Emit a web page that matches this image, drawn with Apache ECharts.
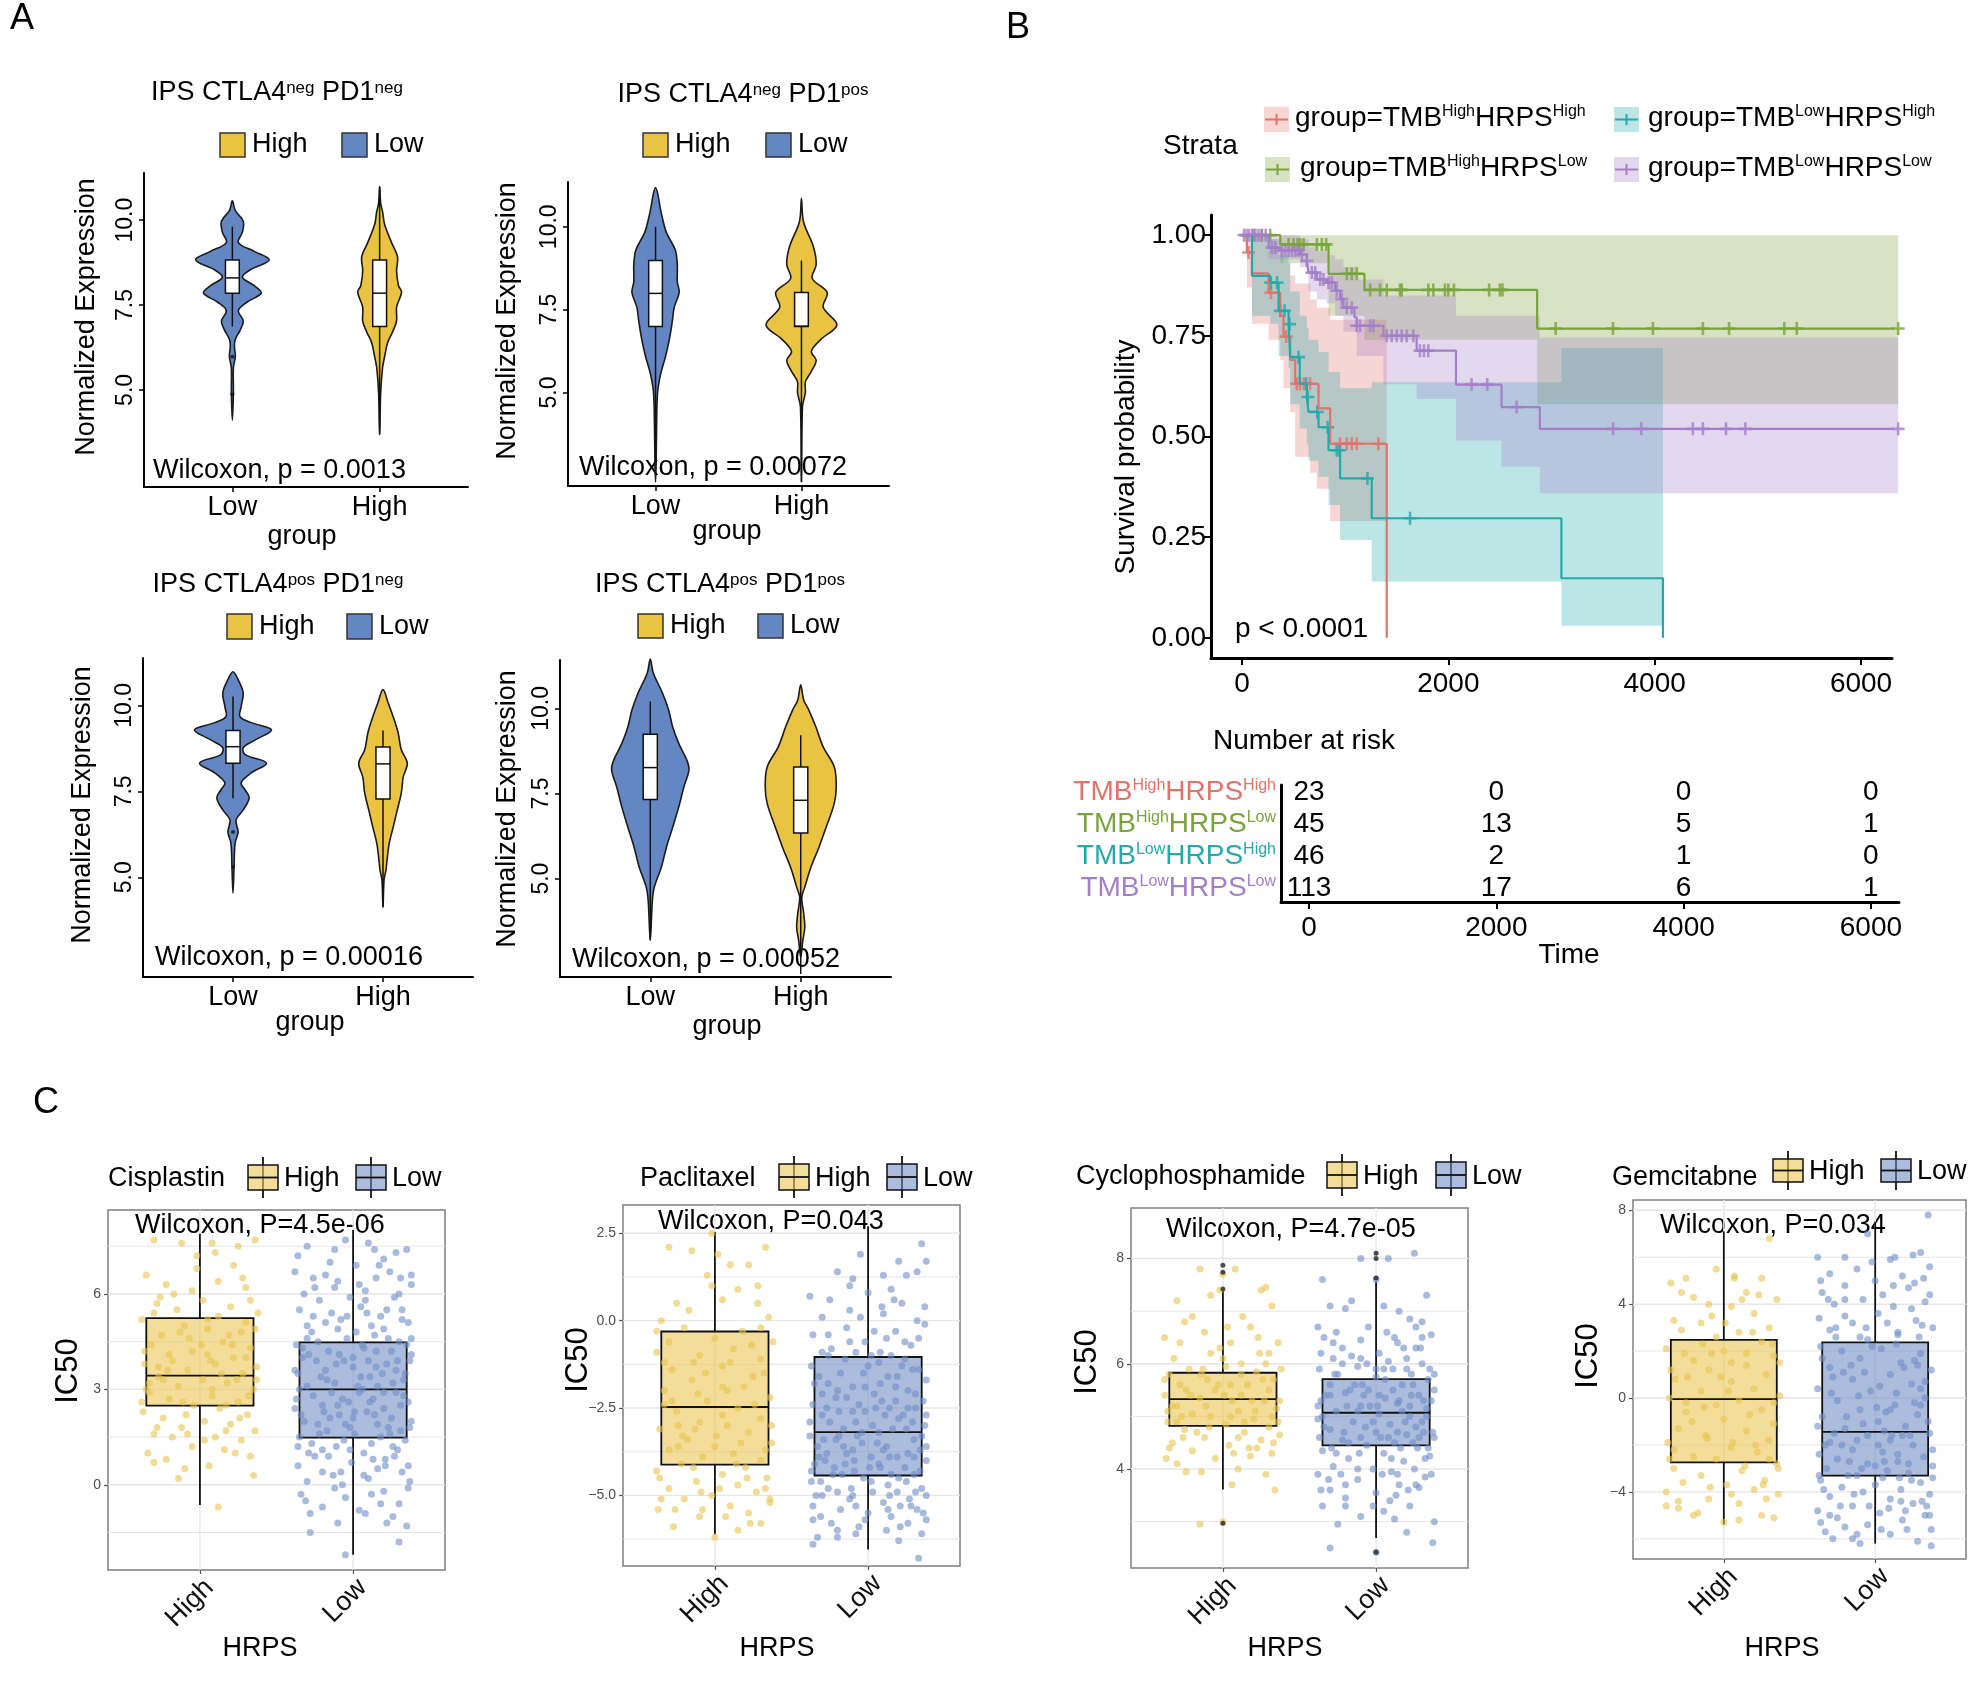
<!DOCTYPE html>
<html>
<head>
<meta charset="UTF-8">
<title>IPS, survival and IC50</title>
<script src="https://cdn.jsdelivr.net/npm/echarts@6/dist/echarts.min.js"></script>
<style>
body { margin: 0; padding: 0; background: #fff; }
#main { width: 1985px; height: 1681px; }
</style>
</head>
<body>
<div id="main"></div>
<script>
var FONT = '"Liberation Sans", Arial, Helvetica, sans-serif';

// ---------------- A : IPS violins ----------------
var catsA = ['Low', 'High'];
var ipsTicks = [5, 7.5, 10];
var ipsSup = [['neg', 'neg'], ['neg', 'pos'], ['pos', 'neg'], ['pos', 'pos']];
var ipsP = ['0.0013', '0.00072', '0.00016', '0.00052'];

// violin outline: [expression, half width in group units]
var vioA1Low = [[10.57,0],[10.28,.020],[9.97,.074],[9.65,.068],[9.34,.041],[9.08,.149],[8.83,.25],[8.54,.122],[8.32,.068],[8.07,.149],[7.85,.196],[7.59,.101],[7.34,.041],[7.03,.074],[6.77,.054],[6.49,.020],[6.30,.014],[5.98,.020],[5.66,.007],[4.91,.007],[4.11,0]];
var vioA1High = [[10.99,0],[10.5,.007],[10.25,.020],[9.87,.034],[9.34,.081],[8.92,.122],[8.51,.115],[8.07,.128],[7.88,.149],[7.44,.115],[7.03,.115],[6.71,.088],[6.39,.054],[5.98,.034],[5.66,.020],[4.91,.007],[3.67,0]];
var vioA2Low = [[11.18,0],[10.38,.041],[9.83,.074],[9.3,.135],[8.86,.149],[8.34,.149],[8.02,.162],[7.57,.128],[7.15,.115],[6.61,.095],[6.08,.068],[5.54,.034],[5.0,.014],[3.93,.007],[2.85,.004],[2.3,0]];
var vioA2High = [[10.86,0],[10.15,.014],[9.41,.081],[8.86,.101],[8.44,.074],[8.02,.176],[7.57,.149],[7.04,.243],[6.61,.135],[6.24,.068],[5.97,.101],[5.64,.068],[5.32,.027],[5.0,.027],[4.57,.007],[2.3,0]];
var vioA3Low = [[10.98,0],[10.75,.034],[10.37,.068],[9.96,.054],[9.67,.047],[9.5,.122],[9.29,.257],[9.0,.149],[8.77,.068],[8.57,.081],[8.32,.223],[8.04,.122],[7.75,.054],[7.54,.081],[7.31,.108],[6.96,.068],[6.67,.020],[6.32,.034],[6.0,.014],[5.3,.007],[4.54,0]];
var vioA3High = [[10.46,0],[10.08,.034],[9.67,.068],[9.2,.101],[8.71,.122],[8.32,.162],[7.92,.135],[7.45,.122],[6.96,.095],[6.46,.068],[5.98,.041],[5.5,.027],[5.21,.020],[4.92,.007],[4.13,0]];
var vioA4Low = [[11.45,0],[11.04,.020],[10.45,.081],[9.95,.122],[9.45,.149],[8.97,.189],[8.48,.243],[8.19,.257],[7.69,.223],[7.1,.189],[6.51,.149],[5.93,.108],[5.34,.074],[4.75,.027],[4.36,.014],[3.19,0]];
var vioA4High = [[10.69,0],[10.24,.020],[9.95,.054],[9.45,.101],[8.87,.149],[8.28,.223],[7.69,.236],[7.21,.223],[6.51,.169],[5.93,.122],[5.34,.068],[4.75,.027],[4.46,.007],[3.97,.020],[3.57,.027],[3.19,.014],[2.69,0]];

// box stats: [lower whisker, Q1, median, Q3, upper whisker]
var boxA1 = [[6.87, 7.85, 8.3, 8.83, 9.81], [3.7, 6.87, 7.85, 8.83, 10.99]];
var boxA2 = [[2.9, 6.99, 7.99, 8.98, 10.0], [2.3, 6.99, 7.0, 8.02, 8.98]];
var boxA3 = [[7.3, 8.32, 8.8, 9.27, 10.26], [4.13, 7.28, 8.3, 8.79, 9.27]];
var boxA4 = [[3.19, 7.32, 8.26, 9.24, 10.2], [2.2, 6.34, 7.3, 8.28, 9.21]];
var outA1 = [[5.98, 4.87], []];
var outA3 = [[6.32, 5.3], []];

// ---------------- B : Kaplan-Meier ----------------
var kmTimeTicks = [0, 2000, 4000, 6000];
var kmProbTicks = [0, 0.25, 0.5, 0.75, 1];
var strataSup = [['High', 'High'], ['High', 'Low'], ['Low', 'High'], ['Low', 'Low']];
// [time, survival after the step]
var kmRed = [[0,1],[48,0.957],[97,0.905],[258,0.857],[371,0.80],[403,0.748],[468,0.69],[516,0.631],[742,0.57],[855,0.482],[1403,0]];
var kmGreen = [[0,1],[371,0.977],[839,0.904],[1187,0.864],[2861,0.768],[6360,0.768]];
var kmTeal = [[0,1],[97,0.899],[274,0.882],[355,0.812],[452,0.779],[468,0.697],[560,0.631],[629,0.598],[645,0.561],[742,0.523],[839,0.466],[951,0.396],[1258,0.297],[3096,0.148],[4080,0]];
var kmPurple = [[0,1],[258,0.969],[371,0.962],[564,0.952],[629,0.936],[645,0.907],[726,0.890],[822,0.882],[903,0.862],[951,0.841],[984,0.820],[1090,0.796],[1113,0.775],[1371,0.750],[1693,0.713],[2074,0.629],[2516,0.573],[2887,0.519],[6360,0.519]];
// confidence band steps: [time, lower, upper]
var ciRed = [[0,1,1],[48,0.87,1],[97,0.78,1],[258,0.74,0.99],[371,0.69,0.96],[403,0.62,0.93],[468,0.56,0.90],[516,0.45,0.88],[661,0.41,0.84],[726,0.37,0.82],[855,0.29,0.79]];
var ciGreen = [[0,1,1],[371,0.93,1],[839,0.80,1],[1187,0.74,1],[2861,0.58,1]];
var ciTeal = [[0,1,1],[97,0.80,1],[274,0.78,0.99],[355,0.70,0.95],[452,0.67,0.93],[468,0.58,0.86],[560,0.52,0.80],[629,0.48,0.77],[645,0.44,0.74],[742,0.40,0.71],[839,0.33,0.66],[951,0.243,0.62],[1258,0.14,0.635],[3096,0.03,0.72]];
var ciPurple = [[0,1,1],[258,0.94,1],[564,0.92,0.99],[645,0.86,0.97],[726,0.84,0.96],[822,0.83,0.95],[903,0.80,0.94],[984,0.76,0.92],[1113,0.70,0.89],[1371,0.63,0.85],[1693,0.594,0.85],[2074,0.49,0.80],[2516,0.425,0.80],[2887,0.359,0.746]];
// censoring times
var censRed = [64,281,429,532,564,600,660,951,1016,1064,1113,1322];
var censGreen = [113,194,274,452,500,539,564,597,726,774,816,1016,1064,1113,1242,1338,1403,1532,1548,1806,1855,1967,2000,2054,2396,2500,2525,3041,3596,3983,4467,4721,5256,5377,6360];
var censTeal = [280,340,372,413,461,548,622,639,730,830,919,945,1216,1629];
var censPurple = [20,45,70,100,130,160,190,230,290,323,387,419,452,484,516,548,581,629,677,710,758,790,839,871,919,968,1016,1064,1113,1145,1242,1274,1403,1451,1500,1548,1596,1661,1725,1764,1806,2225,2377,2661,3596,3870,4370,4467,4691,4879,6360];
// number at risk
var riskTimes = [0, 2000, 4000, 6000];
var riskRed = [23, 0, 0, 0];
var riskGreen = [45, 13, 5, 1];
var riskTeal = [46, 2, 1, 0];
var riskPurple = [113, 17, 6, 1];

// ---------------- C : IC50 boxplots ----------------
var catsC = ['High', 'Low'];
var drugs = ['Cisplastin', 'Paclitaxel', 'Cyclophosphamide', 'Gemcitabne'];
var drugP = ['4.5e-06', '0.043', '4.7e-05', '0.034'];
var icTicks = [[0, 3, 6], [-5, -2.5, 0, 2.5], [4, 6, 8], [-4, 0, 4, 8]];
var icMinor = [[-1.5, 1.5, 4.5, 7.5], [-6.25, -3.75, -1.25, 1.25], [3, 5, 7], [-6, -2, 2, 6]];
var boxC1 = [[-0.64, 2.49, 3.43, 5.24, 7.89], [-2.2, 1.48, 3.0, 4.48, 8.01]];
var boxC2 = [[-6.11, -4.12, -2.47, -0.31, 2.54], [-6.55, -4.43, -3.19, -1.04, 2.7]];
var boxC3 = [[3.61, 4.82, 5.33, 5.83, 7.38], [2.69, 4.45, 5.07, 5.71, 7.56]];
var boxC4 = [[-5.39, -2.74, -0.05, 2.48, 7.1], [-6.2, -3.31, -1.44, 2.37, 7.51]];
var outC3 = [[7.87, 7.74, 7.42, 2.97], [8.1, 8.0, 7.63, 2.42]];
// jittered points: [offset from group centre, IC50]
var ptsC1High = [[-0.30,7.7],[-0.12,7.6],[0.08,7.6],[0.25,7.5],[0.36,7.7],[-0.35,6.6],[-0.22,6.3],[-0.05,6.1],[0.12,6.4],[0.30,6.2],[0.02,5.8],[-0.28,5.7],[-0.15,5.5],[0.20,5.6],[0.38,5.4],[-0.38,5.2],[-0.10,5.0],[0.05,4.9],[0.27,4.8],[-0.25,4.7],[0.15,4.5],[-0.32,4.4],[0.33,4.3],[-0.05,4.2],[0.22,4.0],[-0.18,3.9],[0.10,3.8],[-0.36,3.8],[0.37,3.7],[-0.08,3.6],[0.28,3.5],[-0.27,3.4],[0.02,3.3],[0.18,3.2],[-0.14,3.1],[0.35,3.0],[-0.33,2.9],[0.08,2.8],[-0.20,2.7],[0.25,2.6],[-0.04,2.5],[0.13,2.4],[-0.37,2.3],[0.31,2.2],[-0.24,2.1],[0.03,2.0],[0.20,1.9],[-0.12,1.8],[0.36,1.7],[-0.30,1.6],[0.10,1.5],[-0.18,1.5],[0.27,1.4],[-0.05,1.2],[0.16,1.1],[-0.34,1.0],[0.33,0.9],[-0.22,0.8],[0.06,0.6],[-0.10,0.5],[0.35,0.3],[-0.30,0.7],[0.12,-0.7],[0.22,6.9],[-0.02,6.8],[0.30,5.1],[-0.20,4.1],[0.08,3.0],[-0.27,3.7],[0.17,2.5],[-0.07,4.6],[0.24,3.3],
  [-0.21,3.6],[0.05,4.1],[0.21,4.4],[-0.33,3.2],[0.32,2.8],[-0.09,2.2],[0.12,5.3],[-0.26,5.9],[0.28,6.5],[-0.02,7.2],[0.17,1.7],[-0.14,0.2],[0.36,4.9],[-0.38,2.6],[0.07,3.9],
  [-0.36,4.2],[-0.24,3.3],[-0.11,2.6],[0.01,4.4],[0.14,3.5],[0.26,2.1],[0.37,3.3],[-0.30,5.4],[-0.17,6.0],[0.05,5.2],[0.19,4.7],[0.33,5.8],[-0.08,1.6],[0.23,1.0],[-0.28,1.8],[0.10,7.3],[-0.35,3.0],[0.30,4.0],[-0.13,4.8],[0.03,1.4]];
var ptsC1Low = [[-0.30,7.5],[-0.05,7.7],[0.10,7.6],[0.28,7.3],[0.35,7.4],[-0.15,7.0],[0.20,7.1],[-0.38,6.7],[-0.25,6.2],[-0.10,6.4],[0.02,6.9],[0.15,6.5],[0.30,6.0],[0.38,6.3],[-0.32,6.0],[0.08,6.1],[-0.18,6.6],[-0.35,5.5],[-0.22,5.8],[-0.08,5.2],[0.05,5.6],[0.18,5.3],[0.27,5.9],[0.36,5.1],[-0.30,5.0],[0.12,5.0],[-0.14,5.4],[0.32,5.5],[-0.02,5.9],[-0.37,4.4],[-0.27,4.8],[-0.16,4.2],[-0.04,4.6],[0.07,4.3],[0.20,4.9],[0.30,4.5],[0.38,4.1],[-0.33,4.0],[0.14,4.7],[-0.10,4.9],[0.25,4.2],[0.00,4.0],[-0.36,3.5],[-0.24,3.9],[-0.12,3.2],[0.00,3.7],[0.11,3.4],[0.22,3.8],[0.33,3.3],[-0.30,3.1],[0.06,3.0],[0.28,3.6],[-0.18,3.6],[0.16,3.1],[-0.06,3.9],[0.37,3.9],[-0.38,2.4],[-0.26,2.8],[-0.15,2.1],[-0.03,2.6],[0.09,2.3],[0.20,2.9],[0.31,2.5],[0.38,2.0],[-0.32,2.0],[0.13,2.7],[-0.09,2.2],[0.25,2.1],[-0.20,2.5],[0.04,2.9],[-0.35,1.5],[-0.23,1.9],[-0.11,1.2],[0.01,1.6],[0.12,1.3],[0.23,1.8],[0.34,1.4],[-0.29,1.0],[0.07,1.0],[0.29,1.1],[-0.17,1.7],[0.18,1.5],[-0.05,1.9],[0.37,1.8],[-0.36,0.6],[-0.25,0.9],[-0.13,0.3],[-0.01,0.7],[0.10,0.2],[0.21,0.8],[0.32,0.4],[-0.30,0.1],[0.16,0.5],[-0.07,0.0],[0.27,0.9],[0.37,0.1],[-0.34,-0.3],[-0.20,-0.7],[-0.05,-0.4],[0.08,-0.9],[0.20,-0.2],[0.30,-0.6],[0.36,-0.1],[-0.12,-0.1],[-0.28,-1.5],[0.22,-1.2],[0.35,-1.3],[-0.05,-2.2],[0.04,-0.8],
  [-0.33,4.3],[-0.21,3.4],[-0.09,4.1],[0.03,3.1],[0.15,4.2],[0.26,3.2],[0.35,4.4],[-0.37,2.7],[-0.19,2.3],[-0.02,1.8],[0.11,2.6],[0.24,1.6],[0.33,2.8],[-0.27,1.3],[-0.11,3.8],[0.06,4.4],[0.19,3.5],[0.31,1.7],[-0.35,3.0],[-0.14,2.9],[0.01,2.3],[0.16,1.9],[0.29,3.9],[-0.23,4.5],[-0.06,1.4],[0.21,0.6],[-0.31,-0.5],[0.12,-0.3],[0.38,6.6],[-0.26,5.3],[0.09,5.4],[0.24,6.7],[-0.12,6.2],[0.32,5.2],[-0.36,7.2],[0.14,7.4],[-0.08,0.4],[0.26,-1.0],[-0.20,1.1],[0.36,2.6],
  [-0.38,3.6],[-0.29,4.1],[-0.17,3.3],[-0.07,2.7],[0.05,3.4],[0.14,2.2],[0.23,4.6],[0.34,3.5],[-0.34,2.2],[-0.22,1.6],[-0.10,2.5],[0.02,4.8],[0.10,3.9],[0.20,2.4],[0.28,2.9],[0.38,4.6],[-0.30,4.6],[-0.18,5.1],[-0.04,5.3],[0.08,5.8],[0.22,5.5],[0.31,6.5],[-0.26,6.5],[-0.12,7.4],[0.04,6.3],[0.17,6.9],[-0.36,1.2],[-0.20,0.4],[-0.02,1.1],[0.13,0.8],[0.26,1.2],[0.36,0.6],[-0.28,-0.9],[-0.10,-1.2],[0.07,0.3],[0.18,-0.6],[0.30,-1.8],[-0.16,0.9],[0.00,2.1],[0.15,3.7]];
var ptsC2High = [[-0.30,2.1],[-0.15,2.0],[0.02,1.9],[0.22,1.6],[0.33,2.1],[0.28,1.0],[-0.25,0.5],[0.05,0.6],[-0.05,1.3],[0.15,0.9],[-0.02,2.5],[-0.35,0.0],[-0.20,-0.2],[0.00,-0.5],[0.18,-0.3],[0.35,0.1],[-0.38,-0.9],[-0.10,-1.0],[0.10,-1.2],[0.30,-1.1],[-0.28,-1.4],[0.25,-1.6],[-0.15,-1.7],[0.05,-1.9],[-0.33,-2.0],[0.36,-2.2],[-0.05,-2.3],[0.15,-2.5],[-0.25,-2.6],[0.30,-2.8],[-0.10,-2.9],[0.08,-3.0],[-0.36,-3.1],[0.22,-3.2],[-0.18,-3.4],[0.37,-3.5],[0.00,-3.6],[-0.30,-3.7],[0.12,-3.8],[-0.08,-3.9],[0.30,-4.0],[-0.22,-4.1],[0.20,-4.2],[-0.38,-4.3],[0.05,-4.4],[0.34,-4.5],[-0.12,-4.6],[0.15,-4.7],[-0.30,-4.8],[0.27,-4.9],[-0.02,-5.0],[-0.20,-5.1],[0.36,-5.1],[0.10,-5.3],[-0.37,-5.4],[0.22,-5.5],[-0.10,-5.6],[0.30,-5.8],[-0.27,-5.9],[0.00,-6.2],[0.15,-6.0],[-0.33,-1.2],[0.33,-3.7],[-0.06,-1.5],[0.24,-0.7],[-0.24,-3.0],[0.08,-2.0],[-0.14,-4.2],[0.38,-0.6],
  [-0.21,-3.3],[0.05,-2.7],[0.21,-4.5],[-0.33,-2.4],[0.32,-1.5],[-0.09,-4.9],[0.12,-0.8],[-0.26,-5.4],[0.28,0.5],[-0.02,1.0],[0.17,-3.5],[-0.14,-1.2],[0.36,-5.2],[-0.38,-0.3],[0.07,-5.6],
  [-0.36,-4.5],[-0.24,-3.6],[-0.11,-2.1],[0.01,-3.3],[0.14,-4.1],[0.26,-2.4],[0.37,-3.0],[-0.30,-0.6],[-0.17,0.3],[0.05,-1.3],[0.19,-1.9],[0.33,-4.8],[-0.08,-5.4],[0.23,-5.8],[-0.28,-2.3],[0.10,1.6],[-0.35,-5.1],[0.30,-0.2],[-0.13,-3.1],[0.03,-4.8]];
var ptsC2Low = [[-0.05,1.9],[0.20,1.7],[0.35,2.2],[0.25,1.3],[-0.20,1.4],[-0.10,1.2],[0.10,1.3],[0.38,1.7],[-0.38,0.7],[-0.25,0.6],[-0.12,0.3],[0.00,0.8],[0.10,0.2],[0.22,0.5],[0.32,0.0],[-0.30,0.1],[0.15,0.9],[-0.05,0.1],[0.37,0.4],[-0.36,-0.4],[-0.24,-0.8],[-0.14,-0.2],[-0.02,-0.6],[0.08,-0.9],[0.18,-0.3],[0.28,-0.7],[0.37,-0.1],[-0.30,-0.9],[0.12,-0.5],[-0.08,-0.9],[0.33,-0.5],[-0.37,-1.3],[-0.26,-1.8],[-0.15,-1.1],[-0.03,-1.5],[0.07,-1.2],[0.18,-1.9],[0.29,-1.4],[0.38,-1.7],[-0.32,-1.6],[0.13,-1.6],[-0.10,-1.9],[0.24,-1.1],[0.02,-1.0],[-0.36,-2.4],[-0.25,-2.9],[-0.14,-2.2],[-0.02,-2.6],[0.09,-2.3],[0.20,-2.8],[0.31,-2.1],[0.38,-2.7],[-0.30,-2.1],[0.14,-2.5],[-0.08,-2.9],[0.26,-2.5],[-0.19,-2.6],[0.04,-2.1],[-0.38,-3.3],[-0.27,-3.8],[-0.16,-3.1],[-0.04,-3.5],[0.07,-3.2],[0.19,-3.9],[0.30,-3.4],[0.37,-3.0],[-0.32,-3.9],[0.12,-3.6],[-0.10,-3.7],[0.25,-3.1],[-0.21,-3.4],[0.02,-3.9],[0.34,-3.7],[-0.37,-4.3],[-0.26,-4.8],[-0.15,-4.1],[-0.03,-4.5],[0.08,-4.2],[0.19,-4.9],[0.30,-4.4],[0.38,-4.0],[-0.31,-4.6],[0.13,-4.7],[-0.09,-4.3],[0.25,-4.6],[-0.20,-4.9],[0.03,-4.9],[0.35,-4.8],[-0.35,-4.1],[-0.36,-5.3],[-0.24,-5.8],[-0.12,-5.1],[0.00,-5.5],[0.10,-5.2],[0.21,-5.9],[0.32,-5.4],[0.38,-5.0],[-0.30,-5.0],[0.15,-5.6],[-0.06,-5.9],[0.27,-5.1],[-0.18,-5.4],[-0.33,-6.2],[-0.08,-6.1],[0.20,-6.3],[0.35,-6.1],[0.33,-6.8],[-0.20,-6.0],
  [-0.33,-3.6],[-0.21,-2.2],[-0.09,-4.0],[0.03,-3.0],[0.15,-4.4],[0.26,-2.0],[0.35,-3.3],[-0.37,-4.6],[-0.19,-3.3],[-0.02,-1.9],[0.11,-2.7],[0.24,-4.2],[0.33,-1.4],[-0.27,-2.5],[-0.11,-4.8],[0.06,-3.5],[0.19,-1.6],[0.31,-4.9],[-0.35,-1.8],[-0.14,-3.8],[0.01,-4.2],[0.16,-3.1],[0.29,-2.9],[-0.23,-4.4],[-0.06,-2.4],[0.21,-5.3],[-0.31,-5.6],[0.12,-6.0],[0.38,-5.7],[-0.26,-0.4],[0.09,0.4],[0.24,-0.6],[-0.12,1.0],[0.32,1.4],[-0.36,-6.4],[0.14,-5.0],[-0.08,-5.3],[0.26,-3.8],[-0.20,-2.0],[0.36,-2.3],
  [-0.38,-2.9],[-0.29,-3.4],[-0.17,-4.4],[-0.07,-3.3],[0.05,-2.5],[0.14,-3.9],[0.23,-2.7],[0.34,-4.3],[-0.34,-5.0],[-0.22,-4.2],[-0.10,-5.0],[0.02,-4.6],[0.10,-3.7],[0.20,-4.5],[0.28,-5.3],[0.38,-3.6],[-0.30,-2.7],[-0.18,-1.5],[-0.04,-3.2],[0.08,-1.8],[0.22,-1.3],[0.31,-2.5],[-0.26,-1.0],[-0.12,-0.6],[0.04,-0.3],[0.17,0.6],[-0.36,-5.7],[-0.20,-6.2],[-0.02,-5.7],[0.13,-5.4],[0.26,-5.8],[0.36,-5.5],[-0.28,-4.0],[-0.10,-2.6],[0.07,-4.1],[0.18,-2.3],[0.30,-3.9],[-0.16,-3.6],[0.00,-1.3],[0.15,-1.0]];
var ptsC3High = [[-0.15,7.8],[0.00,7.7],[0.08,7.8],[-0.02,7.4],[0.25,7.4],[0.28,7.45],[-0.30,7.2],[-0.08,7.3],[0.32,7.1],[0.13,6.9],[-0.25,6.8],[-0.38,6.5],[-0.20,6.9],[0.18,6.7],[0.36,6.4],[0.05,6.4],[-0.12,6.6],[0.24,6.2],[-0.32,6.1],[0.00,6.1],[-0.35,5.8],[-0.22,5.9],[-0.10,5.7],[0.02,5.95],[0.12,5.8],[0.22,5.85],[0.33,5.7],[0.38,5.9],[-0.28,5.6],[-0.05,5.5],[0.16,5.6],[0.30,5.5],[-0.38,5.4],[-0.15,5.35],[0.06,5.3],[0.27,5.3],[-0.30,5.2],[0.10,5.1],[-0.20,5.05],[0.35,5.15],[-0.08,5.0],[0.20,4.95],[-0.36,4.9],[0.02,4.85],[0.30,4.8],[-0.25,4.75],[0.14,4.7],[-0.12,4.6],[0.37,4.65],[-0.33,4.5],[0.25,4.55],[0.04,4.45],[-0.20,4.35],[0.32,4.3],[-0.05,4.2],[0.18,4.25],[-0.30,4.1],[0.10,4.0],[-0.14,3.95],[0.28,3.9],[-0.37,4.2],[0.06,3.7],[0.34,3.6],[-0.24,3.95],[0.00,3.0],[-0.15,2.95],[0.22,4.4],[-0.03,5.6],[0.12,6.0],[-0.27,5.0],
  [-0.21,5.4],[0.05,5.6],[0.21,5.1],[-0.33,5.2],[0.32,5.0],[-0.09,4.8],[0.12,5.4],[-0.26,4.6],[0.28,6.0],[-0.02,6.3],[0.17,4.4],[-0.14,5.8],[0.36,4.9],[-0.38,5.7],[0.07,4.3],
  [-0.36,5.1],[-0.24,5.5],[-0.11,5.2],[0.01,5.4],[0.14,4.9],[0.26,5.7],[0.37,5.3],[-0.30,4.9],[-0.17,4.7],[0.05,5.0],[0.19,5.3],[0.33,4.5],[-0.08,6.2],[0.23,6.5],[-0.28,6.4],[0.10,4.6],[-0.35,4.4],[0.30,6.2],[-0.13,5.9],[0.03,6.7]];
var ptsC3Low = [[-0.10,8.0],[0.25,8.1],[0.08,8.0],[-0.35,7.6],[0.00,7.6],[-0.30,7.1],[0.05,7.1],[0.33,7.3],[-0.20,7.05],[0.22,6.85],[-0.38,6.7],[0.30,6.8],[-0.05,6.7],[-0.34,6.5],[-0.22,6.3],[-0.10,6.45],[0.02,6.2],[0.14,6.4],[0.26,6.3],[0.36,6.55],[-0.28,6.1],[0.08,6.05],[0.30,6.0],[-0.16,6.15],[0.20,6.1],[-0.37,5.9],[-0.25,5.8],[-0.12,5.95],[0.00,5.75],[0.11,5.9],[0.23,5.8],[0.34,5.7],[-0.30,5.6],[-0.05,5.5],[0.17,5.6],[0.38,5.5],[-0.20,5.45],[0.06,5.35],[0.28,5.4],[-0.36,5.3],[-0.10,5.2],[0.14,5.25],[0.33,5.15],[-0.26,5.1],[0.02,5.05],[0.22,5.0],[-0.38,4.95],[-0.15,4.9],[0.09,4.85],[0.30,4.9],[-0.30,4.75],[0.00,4.7],[0.20,4.65],[0.37,4.7],[-0.22,4.55],[0.12,4.5],[-0.06,4.45],[0.27,4.4],[-0.35,4.35],[0.05,4.3],[0.35,4.25],[-0.18,4.2],[0.18,4.15],[-0.28,4.05],[-0.02,4.0],[0.25,4.0],[-0.38,3.9],[0.10,3.95],[0.32,3.85],[-0.12,3.8],[0.15,3.7],[-0.30,3.6],[0.00,3.55],[0.28,3.65],[-0.20,3.45],[0.22,3.3],[-0.35,3.3],[0.05,3.2],[-0.10,3.1],[0.38,3.0],[-0.25,2.95],[0.20,2.8],[0.37,2.6],[-0.30,2.5],[0.00,2.42],[0.12,3.05],
  [-0.33,5.4],[-0.21,4.7],[-0.09,5.6],[0.03,4.6],[0.15,5.3],[0.26,4.8],[0.35,5.9],[-0.37,4.6],[-0.19,5.2],[-0.02,4.9],[0.11,5.5],[0.24,4.5],[0.33,5.0],[-0.27,5.8],[-0.11,4.3],[0.06,5.7],[0.19,4.9],[0.31,5.3],[-0.35,5.0],[-0.14,5.6],[0.01,5.2],[0.16,4.4],[0.29,6.3],[-0.23,3.9],[-0.06,6.0],[0.21,3.6],[-0.31,3.8],[0.12,6.5],[0.38,4.6],[-0.26,6.6],[0.09,3.4],[0.24,5.6],[-0.12,4.0],[0.32,4.2],[-0.36,6.2],[0.14,3.9],[-0.08,5.4],[0.26,6.7],[-0.20,3.3],[0.36,5.3],
  [-0.38,5.2],[-0.29,4.4],[-0.17,5.5],[-0.07,4.8],[0.05,5.9],[0.14,4.7],[0.23,5.4],[0.34,4.4],[-0.34,4.8],[-0.22,6.0],[-0.10,4.6],[0.02,5.4],[0.10,4.2],[0.20,5.9],[0.28,4.6],[0.38,5.8],[-0.30,5.4],[-0.18,4.5],[-0.04,5.2],[0.08,4.6],[0.22,5.2],[0.31,4.7],[-0.26,4.3],[-0.12,5.1],[0.04,3.9],[0.17,5.1],[-0.36,3.6],[-0.20,3.7],[-0.02,3.3],[0.13,3.5],[0.26,3.7],[0.36,3.9],[-0.28,6.4],[-0.10,6.1],[0.07,6.6],[0.18,6.3],[0.30,6.5],[-0.16,7.2],[0.00,5.9],[0.15,7.0]];
var ptsC4High = [[0.30,6.8],[-0.35,4.9],[-0.25,5.1],[-0.05,5.5],[0.07,5.2],[0.25,5.1],[0.35,4.2],[-0.20,4.3],[0.15,4.5],[-0.10,4.0],[0.05,3.9],[-0.33,3.3],[0.20,3.6],[-0.15,3.2],[0.30,3.0],[-0.28,2.9],[0.10,2.8],[-0.05,2.6],[0.25,2.4],[-0.38,2.1],[0.00,2.0],[0.33,1.8],[-0.20,1.6],[0.15,1.4],[-0.10,1.2],[0.28,1.0],[-0.32,0.8],[0.05,0.7],[0.20,0.4],[-0.15,0.3],[0.37,0.1],[-0.36,0.0],[0.10,-0.1],[-0.05,-0.3],[0.25,-0.5],[-0.25,-0.6],[0.00,-0.9],[0.33,-1.1],[-0.30,-1.3],[0.15,-1.4],[-0.12,-1.6],[0.30,-1.8],[-0.37,-1.9],[0.05,-2.1],[0.22,-2.3],[-0.20,-2.5],[-0.05,-2.6],[0.35,-2.8],[-0.33,-3.0],[0.12,-3.1],[-0.15,-3.3],[0.27,-3.5],[-0.27,-3.6],[0.02,-3.7],[0.20,-3.9],[-0.38,-4.0],[0.36,-4.1],[-0.10,-4.3],[0.10,-4.5],[-0.30,-4.7],[0.25,-5.0],[0.00,-5.3],[0.33,-5.1],[-0.20,-5.0],[0.15,1.9],[-0.25,-0.2],[0.06,-1.9],[-0.08,3.5],
  [-0.21,-1.0],[0.05,1.5],[0.21,-2.0],[-0.33,-2.2],[0.32,2.3],[-0.09,-3.8],[0.12,4.2],[-0.26,1.9],[0.28,-4.3],[-0.02,0.9],[0.17,-0.7],[-0.14,2.3],[0.36,-3.0],[-0.38,-4.6],[0.07,5.1],
  [-0.36,-2.6],[-0.24,0.9],[-0.11,-1.7],[0.01,3.2],[0.14,-2.9],[0.26,-3.7],[0.37,1.5],[-0.30,-4.4],[-0.17,-4.9],[0.05,-4.1],[0.19,2.8],[0.33,-0.2],[-0.08,1.9],[0.23,4.4],[-0.28,4.5],[0.10,-5.2],[-0.35,1.2],[0.30,-2.6],[-0.13,-0.4],[0.03,0.3]];
var ptsC4Low = [[0.35,7.8],[-0.05,7.0],[-0.38,6.0],[-0.20,6.0],[0.25,6.1],[0.30,6.2],[0.10,5.9],[-0.30,5.3],[-0.12,5.5],[0.00,5.0],[0.18,5.2],[0.36,5.6],[-0.35,4.5],[-0.20,4.8],[0.05,4.4],[0.22,4.7],[0.33,4.1],[-0.27,4.0],[-0.08,4.2],[0.12,3.9],[-0.37,3.4],[-0.15,3.2],[0.02,3.6],[0.27,3.3],[0.38,3.0],[-0.30,2.9],[0.15,2.8],[-0.05,2.5],[-0.36,2.2],[-0.22,2.0],[-0.10,1.7],[0.04,2.1],[0.17,1.5],[0.30,1.9],[0.37,1.2],[-0.30,1.3],[0.10,1.0],[-0.15,0.8],[0.24,0.6],[-0.38,0.4],[-0.03,0.3],[0.33,0.0],[-0.25,-0.1],[0.13,-0.3],[-0.10,-0.5],[0.28,-0.7],[-0.35,-0.8],[0.02,-1.0],[0.20,-1.2],[-0.20,-1.3],[0.36,-1.5],[-0.05,-1.6],[0.10,-1.8],[-0.30,-1.9],[0.25,-2.0],[-0.15,-2.2],[0.05,-2.3],[-0.37,-2.4],[0.32,-2.5],[-0.25,-2.6],[0.15,-2.7],[-0.05,-2.8],[0.38,-2.9],[-0.32,-3.0],[0.08,-3.1],[0.22,-3.2],[-0.12,-3.3],[-0.36,-3.5],[0.30,-3.6],[0.00,-3.7],[-0.22,-3.8],[0.17,-3.9],[-0.08,-4.0],[0.36,-4.1],[-0.30,-4.2],[0.10,-4.3],[0.25,-4.5],[-0.15,-4.6],[-0.38,-4.8],[0.03,-4.9],[0.33,-5.0],[-0.25,-5.1],[0.18,-5.2],[-0.05,-5.4],[0.37,-5.6],[-0.33,-5.7],[0.10,-5.8],[-0.15,-6.0],[0.28,-6.1],[0.37,-6.3],[-0.20,-5.5],[0.06,-1.4],[-0.28,0.9],[0.30,-0.3],
  [-0.33,-2.0],[-0.21,1.1],[-0.09,-3.0],[0.03,0.5],[0.15,-2.4],[0.26,1.6],[0.35,-1.0],[-0.37,-3.3],[-0.19,-0.8],[-0.02,2.2],[0.11,-1.6],[0.24,-3.5],[0.33,0.7],[-0.27,-1.5],[-0.11,0.1],[0.06,-2.7],[0.19,1.3],[0.31,-4.4],[-0.35,1.7],[-0.14,-4.1],[0.01,-0.4],[0.16,-3.4],[0.29,2.6],[-0.23,-4.6],[-0.06,3.0],[0.21,-5.6],[-0.31,4.2],[0.12,4.8],[0.38,-2.2],[-0.26,2.6],[0.09,-4.7],[0.24,3.8],[-0.12,-5.8],[0.32,5.1],[-0.36,-5.3],[0.14,0.2],[-0.08,-1.1],[0.26,-0.2],[-0.20,3.5],[0.36,4.4],
  [-0.38,-1.2],[-0.29,0.2],[-0.17,-2.7],[-0.07,1.1],[0.05,-3.4],[0.14,2.3],[0.23,-1.6],[0.34,-4.6],[-0.34,-3.9],[-0.22,-2.0],[-0.10,2.6],[0.02,-2.0],[0.10,-0.5],[0.20,-4.8],[0.28,1.4],[0.38,-3.4],[-0.30,-5.0],[-0.18,-3.3],[-0.04,-4.6],[0.08,3.2],[0.22,-2.8],[0.31,3.1],[-0.26,3.0],[-0.12,-1.8],[0.04,-5.6],[0.17,-4.4],[-0.36,5.0],[-0.20,4.2],[-0.02,5.8],[0.13,6.0],[0.26,4.9],[0.36,-5.0],[-0.28,-6.0],[-0.10,-6.2],[0.07,-0.6],[0.18,-1.6],[0.30,0.4],[-0.16,1.4],[0.00,-2.9],[0.15,2.7]];

// ---------------- layout / style ----------------
var YEL = '#EBC343', BLU = '#6487C3';
var kmColors = ['#E0736A', '#7AA33B', '#22AAAB', '#A47FC9'];
var kmBand = ['rgba(224,115,106,0.3)', 'rgba(122,163,59,0.3)', 'rgba(34,170,171,0.3)', 'rgba(164,127,201,0.3)'];
var cFill = ['rgba(236,200,90,0.62)', 'rgba(110,140,196,0.58)'];
var cPt = ['rgba(232,196,80,0.75)', 'rgba(112,142,198,0.75)'];

var gridA = [
  { left: 144, top: 173, width: 324, height: 314, ymin: 2.14, ymax: 11.39, title: [277, 93], key: [220, 133, 342, 24], yt: [87, 317], p: [153, 471], grp: [302, 537] },
  { left: 568, top: 182, width: 321, height: 304, ymin: 2.18, ymax: 11.35, title: [743, 95], key: [643, 133, 766, 24], yt: [508, 321], p: [579, 468], grp: [727, 532] },
  { left: 143, top: 658, width: 330, height: 319, ymin: 2.10, ymax: 11.38, title: [278, 585], key: [227, 614, 347, 25], yt: [83, 805], p: [155, 958], grp: [310, 1023] },
  { left: 560, top: 660, width: 331, height: 317, ymin: 2.11, ymax: 11.42, title: [720, 585], key: [638, 614, 758, 24], yt: [508, 809], p: [572, 960], grp: [727, 1027] }
];
var gridC = [
  { left: 108, top: 1210, width: 337, height: 360, ymin: -2.68, ymax: 8.64, lt: [108, 1179], key: [248, 1165, 356, 25, 1179], p: [135, 1226], yt: [68, 1371], xt: 260 },
  { left: 623, top: 1205, width: 337, height: 361, ymin: -7.02, ymax: 3.31, lt: [640, 1179], key: [779, 1164, 887, 26, 1179], p: [658, 1222], yt: [578, 1360], xt: 777 },
  { left: 1131, top: 1208, width: 337, height: 360, ymin: 2.12, ymax: 8.96, lt: [1076, 1177], key: [1327, 1162, 1436, 26, 1177], p: [1166, 1230], yt: [1087, 1362], xt: 1285 },
  { left: 1633, top: 1200, width: 333, height: 359, ymin: -6.86, ymax: 8.44, lt: [1612, 1178], key: [1773, 1159, 1881, 23, 1172], p: [1660, 1226], yt: [1588, 1356], xt: 1782 }
];

var vios = [[vioA1Low, vioA1High], [vioA2Low, vioA2High], [vioA3Low, vioA3High], [vioA4Low, vioA4High]];
var boxesA = [boxA1, boxA2, boxA3, boxA4];
var outsA = [outA1, [[], []], outA3, [[], []]];
var boxesC = [boxC1, boxC2, boxC3, boxC4];
var outsC = [[[], []], [[], []], outC3, [[], []]];
var ptsC = [[ptsC1High, ptsC1Low], [ptsC2High, ptsC2Low], [ptsC3High, ptsC3Low], [ptsC4High, ptsC4Low]];
var kmCurves = [kmRed, kmGreen, kmTeal, kmPurple];
var kmCI = [ciRed, ciGreen, ciTeal, ciPurple];
var kmCens = [censRed, censGreen, censTeal, censPurple];
var riskRows = [riskRed, riskGreen, riskTeal, riskPurple];

var grids = [], xAxes = [], yAxes = [], series = [], gfx = [];

function minus(s) { return String(s).replace('-', '\u2212'); }
function plain(v) { return String(v); }
function addGrid(r, extra) {
  grids.push(Object.assign({ left: r.left, top: r.top, width: r.width, height: r.height, containLabel: false, outerBoundsMode: 'none' }, extra || {}));
  return grids.length - 1;
}
function text(x, y, str, size, opt) {
  opt = opt || {};
  return {
    type: 'text', x: x, y: y, rotation: opt.rot || 0, silent: true,
    style: { text: str, fontSize: size, fontFamily: FONT, fill: opt.color || '#000',
      align: opt.align || 'left', verticalAlign: 'middle', rich: opt.rich }
  };
}
function supRich(size, ssize, color) {
  return { a: { fontSize: size, fontFamily: FONT, fill: color || '#000' },
           s: { fontSize: ssize, fontFamily: FONT, fill: color || '#000', verticalAlign: 'top' } };
}
function line(x1, y1, x2, y2, color, w) {
  return { type: 'line', silent: true, shape: { x1: x1, y1: y1, x2: x2, y2: y2 }, style: { stroke: color, lineWidth: w } };
}
function rect(x, y, w, h, fill, stroke) {
  return { type: 'rect', silent: true, shape: { x: x, y: y, width: w, height: h }, style: { fill: fill, stroke: stroke || null, lineWidth: 1.5 } };
}

function violinItem(shapes, fills) {
  return function (params, api) {
    var k = params.dataIndex, c = k + 1, o = shapes[k], pts = [], j;
    for (j = 0; j < o.length; j++) pts.push(api.coord([c + o[j][1], o[j][0]]));
    for (j = o.length - 1; j >= 0; j--) if (o[j][1] > 0) pts.push(api.coord([c - o[j][1], o[j][0]]));
    return { type: 'polygon', shape: { points: pts, smooth: 0.35 }, style: { fill: fills[k], stroke: '#1b1b1b', lineWidth: 1.6 } };
  };
}
function boxItem(stats, fills, hw, lw) {
  return function (params, api) {
    var k = params.dataIndex, c = k + 1, b = stats[k];
    var w0 = api.coord([c, b[0]]), w1 = api.coord([c, b[1]]), w3 = api.coord([c, b[3]]), w4 = api.coord([c, b[4]]);
    var tl = api.coord([c - hw, b[3]]), br = api.coord([c + hw, b[1]]);
    var ml = api.coord([c - hw, b[2]]), mr = api.coord([c + hw, b[2]]);
    function st() { return { stroke: '#111', lineWidth: lw }; }
    return { type: 'group', children: [
      { type: 'line', shape: { x1: w0[0], y1: w0[1], x2: w1[0], y2: w1[1] }, style: st() },
      { type: 'line', shape: { x1: w3[0], y1: w3[1], x2: w4[0], y2: w4[1] }, style: st() },
      { type: 'rect', shape: { x: tl[0], y: tl[1], width: br[0] - tl[0], height: br[1] - tl[1] }, style: { fill: fills[k], stroke: '#111', lineWidth: lw } },
      { type: 'line', shape: { x1: ml[0], y1: ml[1], x2: mr[0], y2: mr[1] }, style: st() }
    ] };
  };
}
function outlierData(outs) {
  var d = [];
  outs.forEach(function (o, k) { o.forEach(function (v) { d.push([k + 1, v]); }); });
  return d;
}

// ===== panel A =====
gridA.forEach(function (g, i) {
  var gi = addGrid(g);
  xAxes.push({ gridIndex: gi, type: 'value', min: 0.4, max: 2.6,
    axisLine: { show: true, onZero: false, lineStyle: { color: '#000', width: 2 } },
    axisTick: { show: true, customValues: [1, 2], length: 5, lineStyle: { color: '#000', width: 1.5 } },
    axisLabel: { customValues: [1, 2], formatter: function (v) { return catsA[Math.round(v) - 1]; }, fontSize: 27, color: '#000', margin: 7 },
    splitLine: { show: false } });
  yAxes.push({ gridIndex: gi, type: 'value', min: g.ymin, max: g.ymax,
    axisLine: { show: true, onZero: false, lineStyle: { color: '#000', width: 2 } },
    axisTick: { show: true, customValues: ipsTicks, length: 5, lineStyle: { color: '#000', width: 1.5 } },
    axisLabel: { customValues: ipsTicks, rotate: 90, formatter: function (v) { return v.toFixed(1); }, fontSize: 23, color: '#000', margin: 7 },
    splitLine: { show: false } });
  series.push({ type: 'custom', xAxisIndex: gi, yAxisIndex: gi, silent: true,
    data: [[1, boxesA[i][0][2]], [2, boxesA[i][1][2]]], renderItem: violinItem(vios[i], [BLU, YEL]) });
  series.push({ type: 'custom', xAxisIndex: gi, yAxisIndex: gi, silent: true,
    data: [[1, boxesA[i][0][2]], [2, boxesA[i][1][2]]], renderItem: boxItem(boxesA[i], ['#fff', '#fff'], 0.047, 1.5) });
  series.push({ type: 'scatter', xAxisIndex: gi, yAxisIndex: gi, silent: true, symbolSize: 4,
    itemStyle: { color: '#111' }, data: outlierData(outsA[i]) });

  var s = ipsSup[i];
  gfx.push(text(g.title[0], g.title[1], '{a|IPS CTLA4}{s|' + s[0] + '}{a| PD1}{s|' + s[1] + '}', 27, { align: 'center', rich: supRich(27, 17) }));
  var k = g.key;
  gfx.push(rect(k[0], k[1], 25, k[3], YEL, '#333'));
  gfx.push(text(k[0] + 32, k[1] + k[3] / 2, 'High', 27));
  gfx.push(rect(k[2], k[1], 25, k[3], BLU, '#333'));
  gfx.push(text(k[2] + 32, k[1] + k[3] / 2, 'Low', 27));
  gfx.push(text(g.yt[0], g.yt[1], 'Normalized Expression', 27, { align: 'center', rot: Math.PI / 2 }));
  gfx.push(text(g.p[0], g.p[1], 'Wilcoxon, p = ' + ipsP[i], 27));
  gfx.push(text(g.grp[0], g.grp[1], 'group', 27, { align: 'center' }));
});

// ===== panel B : survival curves =====
function survAt(curve, t) {
  var s = 1;
  for (var i = 0; i < curve.length; i++) if (curve[i][0] <= t) s = curve[i][1];
  return s;
}
var gk = addGrid({ left: 1211, top: 215, width: 681, height: 443 });
xAxes.push({ gridIndex: gk, type: 'value', min: -300, max: 6300,
  axisLine: { show: true, onZero: false, lineStyle: { color: '#000', width: 3 } },
  axisTick: { show: true, customValues: kmTimeTicks, length: 7, lineStyle: { color: '#000', width: 2 } },
  axisLabel: { customValues: kmTimeTicks, formatter: plain, fontSize: 28, color: '#000', margin: 12 },
  splitLine: { show: false } });
yAxes.push({ gridIndex: gk, type: 'value', min: -0.05, max: 1.05,
  axisLine: { show: true, onZero: false, lineStyle: { color: '#000', width: 3 } },
  axisTick: { show: true, customValues: kmProbTicks, length: 7, lineStyle: { color: '#000', width: 2 } },
  axisLabel: { customValues: kmProbTicks, formatter: function (v) { return v.toFixed(2); }, fontSize: 28, color: '#000', margin: 5 },
  splitLine: { show: false } });

kmCI.forEach(function (band, g) {
  var tEnd = kmCurves[g][kmCurves[g].length - 1][0];
  series.push({ type: 'custom', xAxisIndex: gk, yAxisIndex: gk, silent: true, data: [[0, 1]],
    renderItem: function (params, api) {
      var up = [], lo = [], j, t1;
      for (j = 0; j < band.length; j++) {
        t1 = j + 1 < band.length ? band[j + 1][0] : tEnd;
        up.push(api.coord([band[j][0], band[j][2]]), api.coord([t1, band[j][2]]));
        lo.push(api.coord([band[j][0], band[j][1]]), api.coord([t1, band[j][1]]));
      }
      return { type: 'polygon', shape: { points: up.concat(lo.reverse()) }, style: { fill: kmBand[g] } };
    } });
});
kmCurves.forEach(function (c, g) {
  series.push({ type: 'line', xAxisIndex: gk, yAxisIndex: gk, step: 'end', data: c, showSymbol: false, symbol: 'none',
    clip: false, silent: true, lineStyle: { color: kmColors[g], width: 2.2 } });
});
kmCens.forEach(function (ts, g) {
  series.push({ type: 'scatter', xAxisIndex: gk, yAxisIndex: gk, clip: false, silent: true,
    symbol: 'path://M4,0H6V4H10V6H6V10H4V6H0V4H4Z', symbolSize: 13,
    itemStyle: { color: kmColors[g] },
    data: ts.map(function (t) { return [t, survAt(kmCurves[g], t)]; }) });
});

gfx.push(text(1163, 146, 'Strata', 28));
var legPos = [[1264, 107, 1295], [1265, 157, 1300], [1614, 107, 1648], [1614, 157, 1648]];
strataSup.forEach(function (s, g) {
  var p = legPos[g];
  gfx.push(rect(p[0], p[1], 25, 25, kmBand[g]));
  gfx.push(line(p[0] + 1, p[1] + 12.5, p[0] + 24, p[1] + 12.5, kmColors[g], 2));
  gfx.push(line(p[0] + 12.5, p[1] + 7, p[0] + 12.5, p[1] + 18, kmColors[g], 2));
  gfx.push(text(p[2], p[1] + 11, '{a|group=TMB}{s|' + s[0] + '}{a|HRPS}{s|' + s[1] + '}', 28, { rich: supRich(28, 16) }));
});
gfx.push(text(1126, 457, 'Survival probability', 28, { align: 'center', rot: Math.PI / 2 }));
gfx.push(text(1235, 629, 'p < 0.0001', 28));

// number at risk table
var gt = addGrid({ left: 1281, top: 785, width: 618, height: 117 });
var rowRich = {};
kmColors.forEach(function (c, g) {
  rowRich['t' + g] = { fontSize: 28, color: c, fontFamily: FONT };
  rowRich['s' + g] = { fontSize: 16, color: c, fontFamily: FONT, verticalAlign: 'top' };
});
xAxes.push({ gridIndex: gt, type: 'value', min: -300, max: 6300,
  axisLine: { show: true, onZero: false, lineStyle: { color: '#000', width: 3 } },
  axisTick: { show: true, customValues: riskTimes, length: 7, lineStyle: { color: '#000', width: 2 } },
  axisLabel: { customValues: riskTimes, formatter: plain, fontSize: 28, color: '#000', margin: 12 },
  splitLine: { show: false } });
yAxes.push({ gridIndex: gt, type: 'value', min: 0.56, max: 4.22,
  axisLine: { show: true, onZero: false, lineStyle: { color: '#000', width: 3 } },
  axisTick: { show: false },
  axisLabel: { customValues: [1, 2, 3, 4], margin: 5, rich: rowRich,
    formatter: function (v) {
      var g = 4 - Math.round(v), s = strataSup[g];
      return '{t' + g + '|TMB}{s' + g + '|' + s[0] + '}{t' + g + '|HRPS}{s' + g + '|' + s[1] + '}';
    } },
  splitLine: { show: false } });
var riskData = [];
riskRows.forEach(function (row, g) {
  row.forEach(function (n, j) { riskData.push([riskTimes[j], 4 - g, n]); });
});
series.push({ type: 'custom', xAxisIndex: gt, yAxisIndex: gt, silent: true, data: riskData,
  renderItem: function (params, api) {
    var p = api.coord([api.value(0), api.value(1)]);
    return { type: 'text', x: p[0], y: p[1], style: { text: String(api.value(2)), fontSize: 28, fontFamily: FONT, fill: '#000', align: 'center', verticalAlign: 'middle' } };
  } });
gfx.push(text(1213, 741, 'Number at risk', 28));
gfx.push(text(1569, 955, 'Time', 28, { align: 'center' }));

// ===== panel C : IC50 =====
gridC.forEach(function (g, i) {
  var gi = addGrid(g, { show: true, backgroundColor: '#fff', borderColor: '#7f7f7f', borderWidth: 1.5 });
  xAxes.push({ gridIndex: gi, type: 'value', min: 0.4, max: 2.6,
    axisLine: { show: false, onZero: false },
    axisTick: { show: true, customValues: [1, 2], length: 4, lineStyle: { color: '#555', width: 1.2 } },
    axisLabel: { customValues: [1, 2], formatter: function (v) { return catsC[Math.round(v) - 1]; },
      rotate: 45, align: 'right', verticalAlign: 'top', fontSize: 27, color: '#111', margin: 4 },
    splitLine: { show: false } });
  yAxes.push({ gridIndex: gi, type: 'value', min: g.ymin, max: g.ymax,
    axisLine: { show: false, onZero: false },
    axisTick: { show: true, customValues: icTicks[i], length: 4, lineStyle: { color: '#555', width: 1.2 } },
    axisLabel: { customValues: icTicks[i], fontSize: 14, color: '#4d4d4d', margin: 7,
      formatter: function (v) { return minus(i === 1 ? v.toFixed(1) : String(v)); } },
    splitLine: { show: false } });
  // grid lines
  series.push({ type: 'custom', xAxisIndex: gi, yAxisIndex: gi, silent: true, data: [[1, 0]],
    renderItem: function (params, api) {
      var ch = [];
      icTicks[i].concat(icMinor[i]).forEach(function (v, n) {
        var a = api.coord([0.4, v]), b = api.coord([2.6, v]);
        ch.push({ type: 'line', shape: { x1: a[0], y1: a[1], x2: b[0], y2: b[1] }, style: { stroke: '#e6e6e6', lineWidth: n < icTicks[i].length ? 1.4 : 1 } });
      });
      [1, 2].forEach(function (c) {
        var a = api.coord([c, g.ymin]), b = api.coord([c, g.ymax]);
        ch.push({ type: 'line', shape: { x1: a[0], y1: a[1], x2: b[0], y2: b[1] }, style: { stroke: '#e6e6e6', lineWidth: 1.4 } });
      });
      return { type: 'group', children: ch };
    } });
  series.push({ type: 'custom', xAxisIndex: gi, yAxisIndex: gi, silent: true,
    data: [[1, boxesC[i][0][2]], [2, boxesC[i][1][2]]], renderItem: boxItem(boxesC[i], cFill, 0.35, 1.8) });
  ptsC[i].forEach(function (pts, k) {
    series.push({ type: 'scatter', xAxisIndex: gi, yAxisIndex: gi, silent: true, symbolSize: 7,
      itemStyle: { color: cPt[k] }, data: pts.map(function (p) { return [k + 1 + p[0], p[1]]; }) });
  });
  series.push({ type: 'scatter', xAxisIndex: gi, yAxisIndex: gi, silent: true, symbolSize: 5,
    itemStyle: { color: '#222' }, data: outlierData(outsC[i]) });

  gfx.push(text(g.lt[0], g.lt[1], drugs[i], 27));
  var k = g.key, kh = k[3], cy = k[1] + kh / 2;
  [[k[0], YEL, 'High'], [k[2], BLU, 'Low']].forEach(function (e, n) {
    gfx.push(line(e[0] + 15, k[1] - 8, e[0] + 15, k[1] + kh + 8, '#111', 1.8));
    gfx.push(rect(e[0], k[1], 30, kh, cFill[n], '#111'));
    gfx.push(line(e[0], cy, e[0] + 30, cy, '#111', 1.8));
    gfx.push(text(e[0] + 36, k[4], e[2], 27));
  });
  gfx.push(text(g.p[0], g.p[1], 'Wilcoxon, P=' + drugP[i], 27));
  gfx.push(text(g.yt[0], g.yt[1], 'IC50', 31, { align: 'center', rot: Math.PI / 2 }));
  gfx.push(text(g.xt, 1649, 'HRPS', 27, { align: 'center' }));
});

// panel letters
gfx.push(text(10, 19, 'A', 36));
gfx.push(text(1006, 28, 'B', 36));
gfx.push(text(33, 1103, 'C', 36));

var chart = echarts.init(document.getElementById('main'));
chart.setOption({
  animation: false,
  backgroundColor: '#fff',
  textStyle: { fontFamily: FONT },
  grid: grids,
  xAxis: xAxes,
  yAxis: yAxes,
  series: series,
  graphic: { elements: gfx }
});
</script>
</body>
</html>
